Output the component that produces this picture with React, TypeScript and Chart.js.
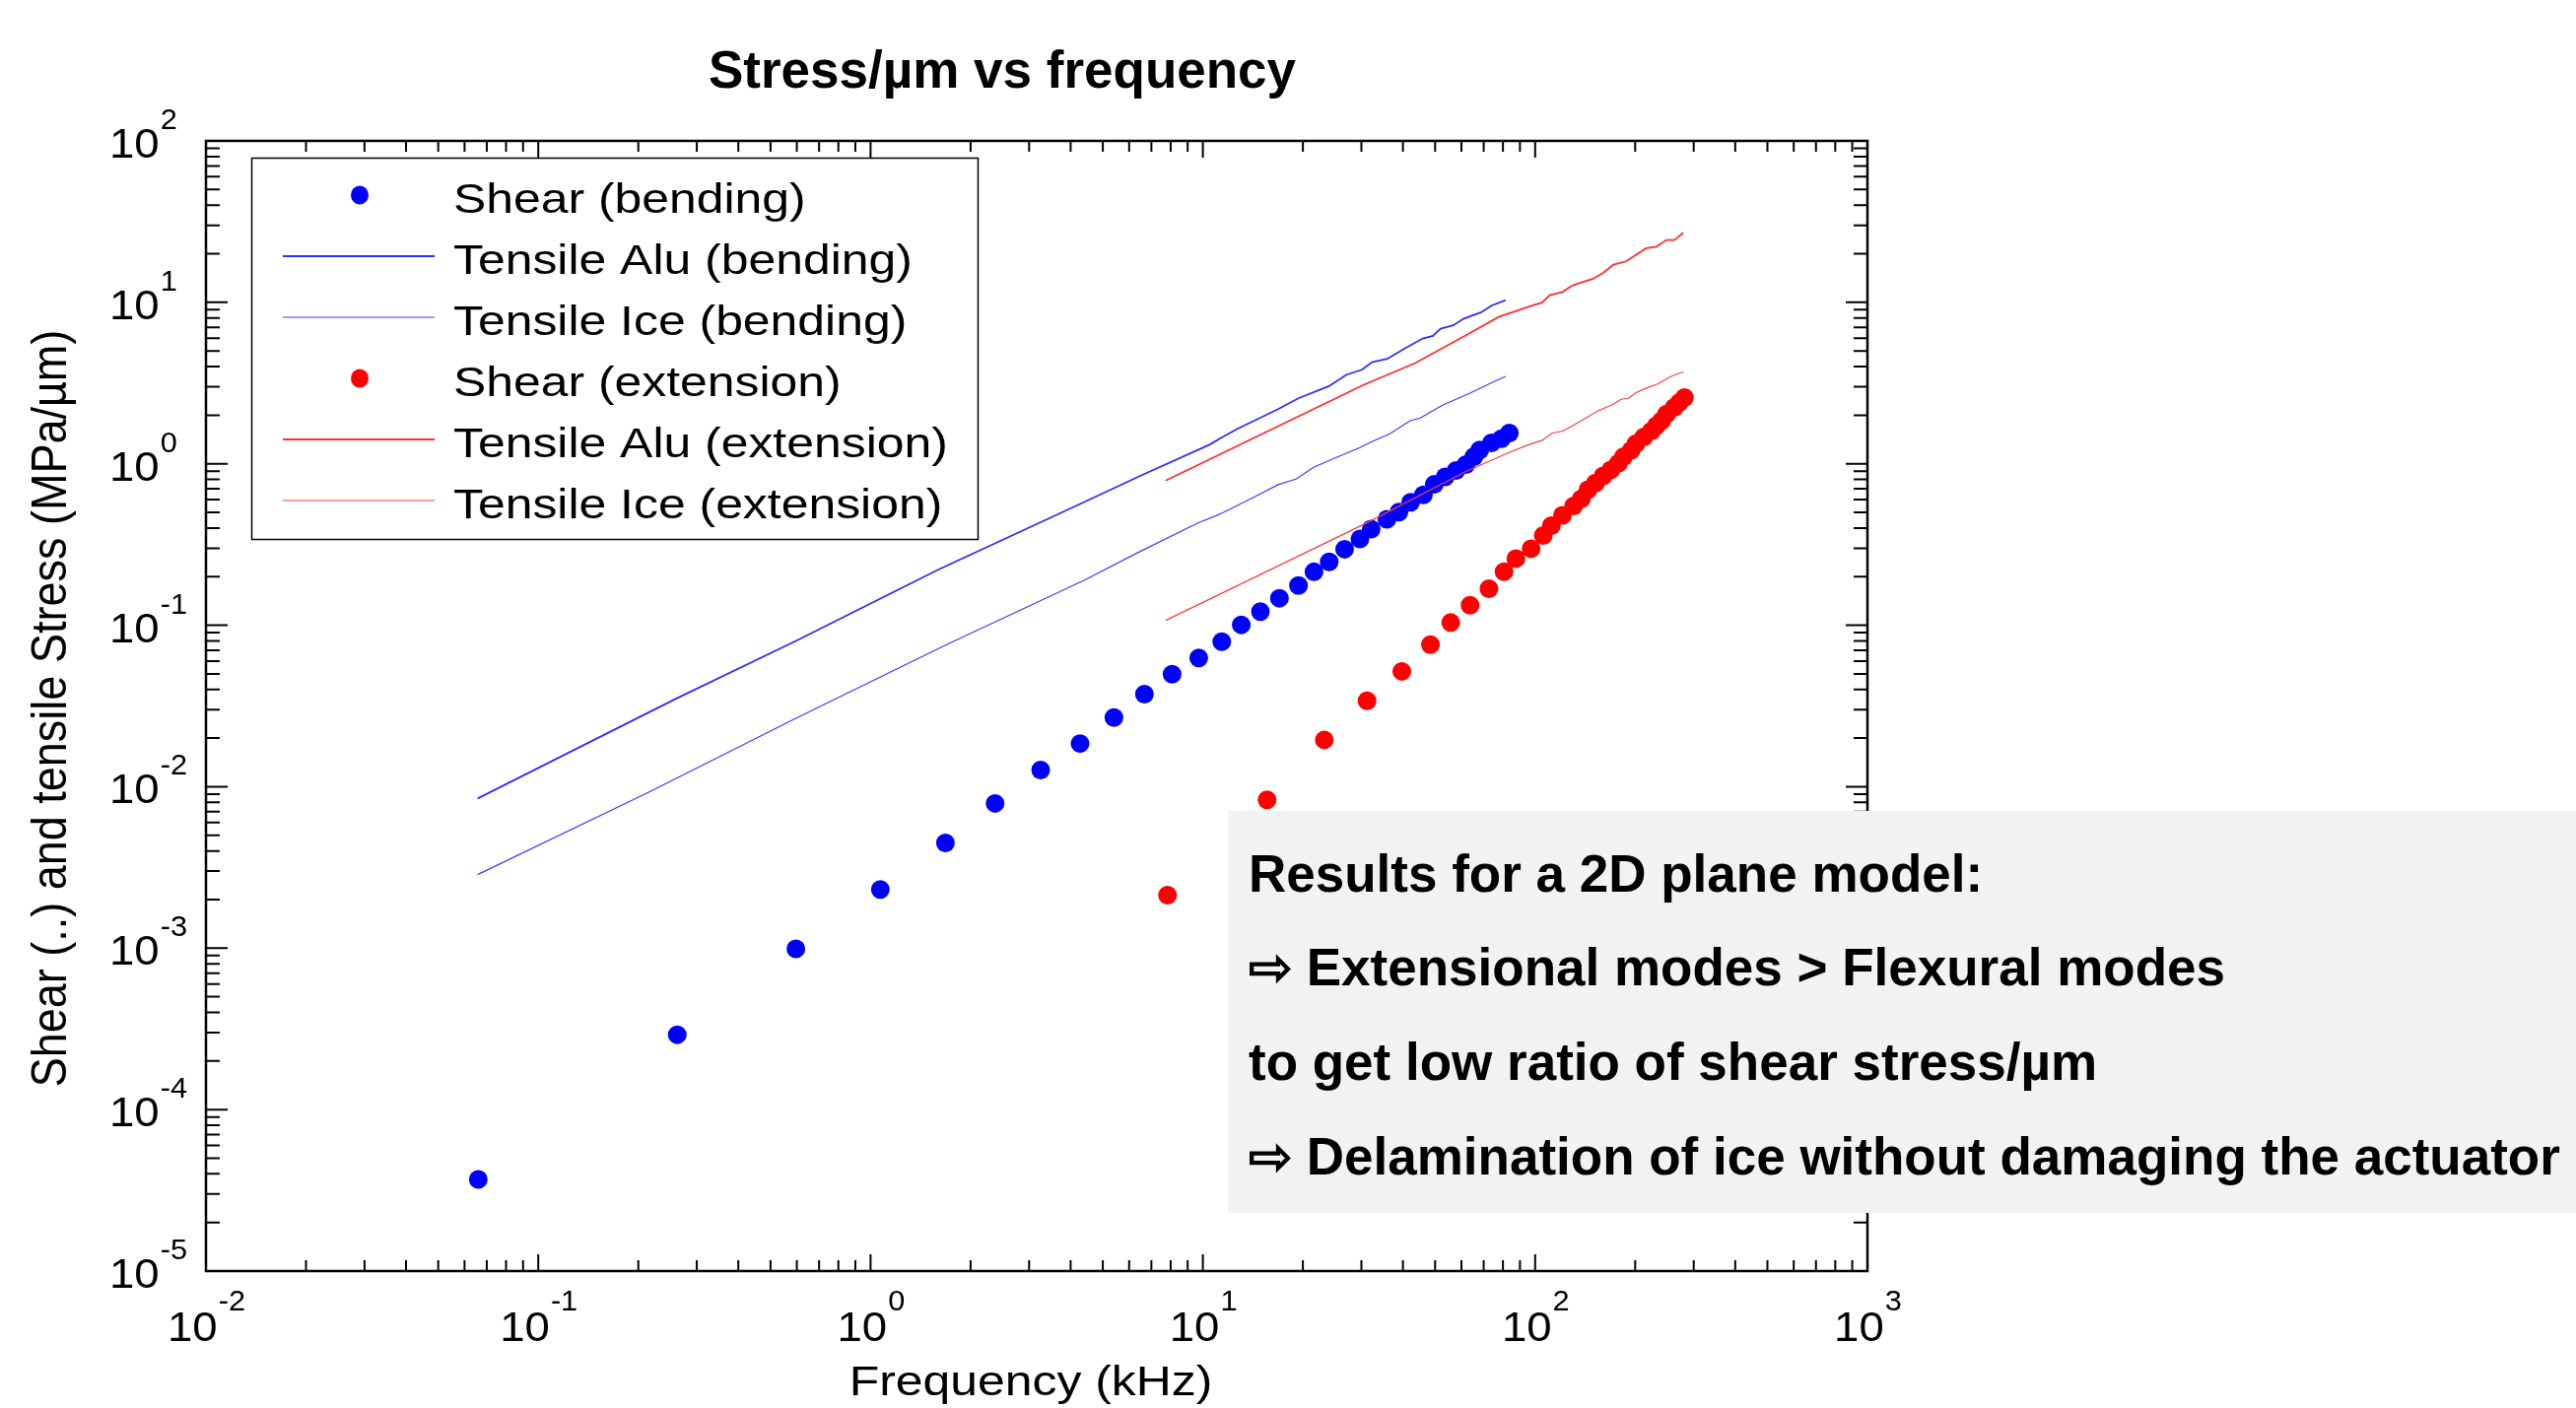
import React, { useEffect, useRef } from "react";
import { Chart, registerables } from "chart.js";

Chart.register(...registerables);

const W = 2614;
const H = 1429;

const titleText = "Stress/µm vs frequency";
const xLabelText = "Frequency (kHz)";
const yLabelText = "Shear (..) and tensile Stress (MPa/µm)";
const xDecades = [-2, -1, 0, 1, 2, 3];
const yDecades = [-5, -4, -3, -2, -1, 0, 1, 2];
const noteLines = [
  "Results for a 2D plane model:",
  "⇨ Extensional modes > Flexural modes",
  "to get low ratio of shear stress/µm",
  "⇨ Delamination of ice without damaging the actuator",
];

// Shear (bending) – blue dots
const shearBendF = [0.066, 0.262, 0.596, 1.07, 1.68, 2.37, 3.25, 4.27, 5.4, 6.67, 8.08, 9.72, 11.4, 13.05, 14.9, 17.0, 19.4, 21.6, 24.0, 26.7, 29.7, 32.1, 35.8, 38.9, 42.2, 46.1, 49.7, 53.6, 57.8, 61.9, 65.4, 68.1, 73.9, 79.2, 83.6];
const shearBendV = [3.69e-5, 2.91e-4, 9.89e-4, 2.31e-3, 4.48e-3, 7.88e-3, 0.0127, 0.0185, 0.0268, 0.0374, 0.0498, 0.0628, 0.0792, 0.1006, 0.1214, 0.147, 0.1764, 0.2142, 0.2471, 0.2958, 0.3423, 0.3935, 0.4533, 0.5016, 0.5783, 0.6425, 0.7457, 0.83, 0.91, 0.99, 1.106, 1.217, 1.347, 1.431, 1.55];

// Tensile Alu (bending)
const aluBendF = [0.0657, 0.257, 0.596, 1.596, 4.27, 6.55, 10.5, 11.23, 12.7, 14.63, 16.84, 19.39, 23.95, 27.08, 30.11, 32.29, 35.88, 40.59, 45.9, 49.24, 51.94, 56.7, 60.83, 68.8, 73.83, 81.5];
const aluBendV = [8.45e-3, 0.0347, 0.08, 0.2206, 0.564, 0.85, 1.317, 1.431, 1.647, 1.895, 2.181, 2.545, 3.026, 3.566, 3.825, 4.263, 4.464, 5.189, 5.973, 6.194, 6.874, 7.2, 7.908, 8.678, 9.533, 10.33];

// Tensile Ice (bending)
const iceBendF = [0.0657, 0.2158, 0.596, 1.693, 4.42, 6.286, 9.592, 11.23, 14.12, 16.84, 19.05, 21.55, 24.81, 29.58, 32.85, 36.53, 42.06, 45.12, 50.13, 52.84, 55.74, 64.16, 73.83, 81.5];
const iceBendV = [2.856e-3, 9.28e-3, 0.0265, 0.0759, 0.1911, 0.2778, 0.4275, 0.487, 0.616, 0.7425, 0.8044, 0.952, 1.08, 1.256, 1.397, 1.535, 1.85, 1.921, 2.181, 2.317, 2.43, 2.757, 3.173, 3.482];

// Shear (extension) – red dots
const shearExtF = [7.83, 15.6, 23.2, 31.2, 39.7, 48.4, 55.7, 63.7, 72.6, 80.6, 87.5, 97.2, 105.8, 111.9, 120.8, 130.6, 137.7, 144.2, 151.9, 160.2, 168.9, 178, 184.5, 194.4, 201.2, 212.3, 223.8, 231.7, 240.1, 248.6, 262.2, 271.6, 281.3];
const shearExtV = [2.13e-3, 8.29e-3, 0.0195, 0.034, 0.0518, 0.0759, 0.1039, 0.1332, 0.1684, 0.2148, 0.2588, 0.2979, 0.3596, 0.4138, 0.4802, 0.548, 0.6073, 0.692, 0.7606, 0.8425, 0.917, 1.007, 1.106, 1.214, 1.334, 1.465, 1.595, 1.724, 1.85, 2.033, 2.234, 2.396, 2.57];

// Tensile Alu (extension)
const aluExtF = [7.73, 30.63, 43.55, 61.93, 77.7, 94.5, 105.0, 110.6, 120.8, 129.7, 149.3, 160.2, 171.9, 187.7, 197.8, 216, 231.7, 248.6, 262.2, 279.3];
const aluExtV = [0.7874, 3.099, 4.203, 6.254, 8.124, 9.31, 9.99, 11.08, 11.6, 12.75, 13.99, 15.22, 17.13, 17.94, 19.24, 21.63, 22.14, 24.33, 24.33, 26.97];

// Tensile Ice (extension)
const iceExtF = [7.73, 16.26, 30.63, 61.93, 82.1, 94.5, 105.0, 112.6, 120.8, 129.7, 154.6, 171.9, 181.1, 190.9, 201.2, 219.8, 231.7, 253.1, 264.0, 279.3];
const iceExtV = [0.1072, 0.2249, 0.4232, 0.8963, 1.159, 1.302, 1.397, 1.55, 1.595, 1.724, 2.129, 2.34, 2.51, 2.545, 2.757, 2.984, 3.099, 3.433, 3.566, 3.704];

const zip = (xs: number[], ys: number[]) => xs.map((x, i) => ({ x, y: ys[i] }));

const FONT = "'Liberation Sans', Arial, Helvetica, sans-serif";

function txt(ctx: CanvasRenderingContext2D, s: string, x: number, y: number, font: string, sx = 1, align: "left" | "center" | "right" = "left") {
  ctx.save();
  ctx.font = font;
  ctx.textBaseline = "alphabetic";
  ctx.textAlign = "left";
  const w = ctx.measureText(s).width * sx;
  let x0 = x;
  if (align === "center") x0 = x - w / 2;
  else if (align === "right") x0 = x - w;
  ctx.translate(x0, y);
  ctx.scale(sx, 1);
  ctx.fillText(s, 0, 0);
  ctx.restore();
  return w;
}

function measure(ctx: CanvasRenderingContext2D, s: string, font: string, sx = 1) {
  ctx.save();
  ctx.font = font;
  const w = ctx.measureText(s).width * sx;
  ctx.restore();
  return w;
}

const decorPlugin = {
  id: "decor",
  afterDraw(chart: any) {
    const ctx: CanvasRenderingContext2D = chart.ctx;
    const xs = chart.scales.x;
    const ys = chart.scales.y;
    const { left, right, top, bottom } = chart.chartArea;
    ctx.save();
    ctx.fillStyle = "#000";
    ctx.strokeStyle = "#000";

    // axes box
    ctx.lineWidth = 2.5;
    ctx.strokeRect(left, top, right - left, bottom - top);

    // y ticks
    ctx.lineWidth = 2;
    for (let i = 0; i < yDecades.length; i++) {
      const k = yDecades[i];
      const py = ys.getPixelForValue(Math.pow(10, k));
      ctx.beginPath();
      ctx.moveTo(left, py); ctx.lineTo(left + 22, py);
      ctx.moveTo(right, py); ctx.lineTo(right - 22, py);
      ctx.stroke();
      if (i < yDecades.length - 1) {
        for (let m = 2; m <= 9; m++) {
          const p = ys.getPixelForValue(m * Math.pow(10, k));
          ctx.beginPath();
          ctx.moveTo(left, p); ctx.lineTo(left + 14, p);
          ctx.moveTo(right, p); ctx.lineTo(right - 14, p);
          ctx.stroke();
        }
      }
    }
    // x ticks
    for (let i = 0; i < xDecades.length; i++) {
      const k = xDecades[i];
      const px = xs.getPixelForValue(Math.pow(10, k));
      ctx.beginPath();
      ctx.moveTo(px, bottom); ctx.lineTo(px, bottom - 17);
      ctx.moveTo(px, top); ctx.lineTo(px, top + 17);
      ctx.stroke();
      if (i < xDecades.length - 1) {
        for (let m = 2; m <= 9; m++) {
          const p = xs.getPixelForValue(m * Math.pow(10, k));
          ctx.beginPath();
          ctx.moveTo(p, bottom); ctx.lineTo(p, bottom - 11);
          ctx.moveTo(p, top); ctx.lineTo(p, top + 11);
          ctx.stroke();
        }
      }
    }

    // tick labels
    const baseFont = `43px ${FONT}`;
    const expFont = `29px ${FONT}`;
    const sx = 1.06;
    for (const k of yDecades) {
      const py = ys.getPixelForValue(Math.pow(10, k));
      const wb = txt(ctx, "10", 111, py + 17, baseFont, sx);
      txt(ctx, String(k), 111 + wb + 1, py - 12, expFont, sx);
    }
    for (const k of xDecades) {
      const px = xs.getPixelForValue(Math.pow(10, k));
      const wb = measure(ctx, "10", baseFont, sx);
      const we = measure(ctx, String(k), expFont, sx);
      const x0 = px - (wb + we) / 2;
      txt(ctx, "10", x0, bottom + 71, baseFont, sx);
      txt(ctx, String(k), x0 + wb + 1, bottom + 40, expFont, sx);
    }

    // axis labels
    txt(ctx, xLabelText, (left + right) / 2 - 6, 1416, `43px ${FONT}`, 1.16, "center");
    ctx.save();
    ctx.translate(67, 719);
    ctx.rotate(-Math.PI / 2);
    ctx.scale(1, 1.09);
    ctx.font = `45px ${FONT}`;
    ctx.textAlign = "center";
    ctx.textBaseline = "alphabetic";
    ctx.fillText(yLabelText, 0, 0);
    ctx.restore();

    // legend
    ctx.fillStyle = "#fff";
    ctx.fillRect(255, 160, 738, 388);
    ctx.strokeStyle = "#000";
    ctx.lineWidth = 1.5;
    ctx.strokeRect(255.5, 160.5, 737, 387);
    const dss = chart.data.datasets;
    for (let i = 0; i < dss.length; i++) {
      const ds = dss[i];
      const ry = 198 + 62 * i;
      if (ds.showLine) {
        ctx.strokeStyle = ds.borderColor;
        ctx.lineWidth = ds.borderWidth;
        ctx.beginPath();
        ctx.moveTo(287, ry);
        ctx.lineTo(441, ry);
        ctx.stroke();
      } else {
        ctx.fillStyle = ds.backgroundColor;
        ctx.beginPath();
        ctx.ellipse(365, ry, 9, 9.5, 0, 0, Math.PI * 2);
        ctx.fill();
      }
      ctx.fillStyle = "#000";
      txt(ctx, ds.label, 460, ry + 18, `43px ${FONT}`, 1.16);
    }

    // annotation box
    ctx.fillStyle = "#f2f2f2";
    ctx.fillRect(1246, 823, W - 1246, 408);
    ctx.fillStyle = "#000";
    const noteY = [905, 1000, 1096, 1192];
    noteLines.forEach((s, i) => txt(ctx, s, 1267, noteY[i], `bold 53px ${FONT}`, 1));

    // title
    txt(ctx, titleText, 1017, 89, `bold 53px ${FONT}`, 1, "center");
    ctx.restore();
  },
};

export default function App() {
  const ref = useRef<HTMLCanvasElement>(null);
  useEffect(() => {
    const canvas = ref.current;
    if (!canvas) return;
    const blue = "#0000ff";
    const red = "#ff0000";
    const chart = new Chart(canvas, {
      type: "scatter",
      data: {
        datasets: [
          { label: "Shear (bending)", data: zip(shearBendF, shearBendV), showLine: false, pointRadius: 9.5, pointHoverRadius: 9.5, backgroundColor: blue, borderColor: blue, borderWidth: 0, order: 6 },
          { label: "Tensile Alu (bending)", data: zip(aluBendF, aluBendV), showLine: true, pointRadius: 0, borderColor: "#2e2eff", backgroundColor: "#2e2eff", borderWidth: 1.8, fill: false, tension: 0, order: 5 },
          { label: "Tensile Ice (bending)", data: zip(iceBendF, iceBendV), showLine: true, pointRadius: 0, borderColor: "#3a3aff", backgroundColor: "#3a3aff", borderWidth: 1.2, fill: false, tension: 0, order: 4 },
          { label: "Shear (extension)", data: zip(shearExtF, shearExtV), showLine: false, pointRadius: 9.5, pointHoverRadius: 9.5, backgroundColor: red, borderColor: red, borderWidth: 0, order: 3 },
          { label: "Tensile Alu (extension)", data: zip(aluExtF, aluExtV), showLine: true, pointRadius: 0, borderColor: "#ff2e2e", backgroundColor: "#ff2e2e", borderWidth: 1.8, fill: false, tension: 0, order: 2 },
          { label: "Tensile Ice (extension)", data: zip(iceExtF, iceExtV), showLine: true, pointRadius: 0, borderColor: "#ff3a3a", backgroundColor: "#ff3a3a", borderWidth: 1.2, fill: false, tension: 0, order: 1 },
        ],
      } as any,
      options: {
        responsive: false,
        maintainAspectRatio: false,
        animation: false,
        devicePixelRatio: 1,
        events: [],
        layout: { padding: { left: 209, top: 143, right: W - 1895, bottom: H - 1290 } },
        plugins: { legend: { display: false }, tooltip: { enabled: false }, title: { display: false } },
        scales: {
          x: { type: "logarithmic", min: 0.01, max: 1000, display: false },
          y: { type: "logarithmic", min: 1e-5, max: 100, display: false },
        },
      } as any,
      plugins: [decorPlugin as any],
    });
    return () => chart.destroy();
  }, []);
  return (
    <div style={{ position: "fixed", left: 0, top: 0, width: W, height: H, background: "#fff" }}>
      <canvas ref={ref} width={W} height={H} style={{ width: W, height: H, display: "block" }} />
    </div>
  );
}
